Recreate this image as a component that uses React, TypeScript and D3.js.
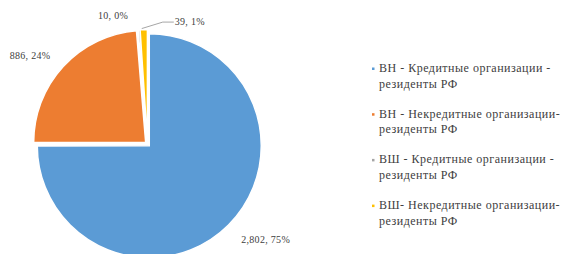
import React from "react";
import * as d3 from "d3";

const categories = [
  "ВН - Кредитные организации -|резиденты РФ",
  "ВН - Некредитные организации-|резиденты РФ",
  "ВШ - Кредитные организации -|резиденты РФ",
  "ВШ- Некредитные организации-|резиденты РФ",
];
const values = [2802, 886, 10, 39];
const percentLabels = ["75%", "24%", "0%", "1%"];
const colors = ["#5b9bd5", "#ed7d31", "#a5a5a5", "#ffc000"];

// label placement (polar, degrees clockwise from 12 o'clock; radius in px)
const labelAngles = [129, 307, 345, 19];
const labelRadii = [152, 147, 133, 130];

const W = 568;
const H = 254;
const cx = 147.5;
const cy = 144;
const R = 112;
const explode = 2.5;
const FONT = "'Liberation Serif', 'Times New Roman', Times, 'DejaVu Serif', serif";

export default function App() {
  const pie = d3.pie<number>().sort(null).value((d) => d)(values);
  const arc = d3.arc<d3.PieArcDatum<number>>().innerRadius(0).outerRadius(R);
  const fmt = d3.format(",");
  const rad = (deg: number) => (deg * Math.PI) / 180;

  return (
    <svg width={W} height={H} style={{ position: "absolute", left: 0, top: 0 }}>
      <rect width={W} height={H} fill="#fff" />
      {pie.map((p, i) => {
        const mid = (p.startAngle + p.endAngle) / 2;
        const dx = Math.sin(mid) * explode;
        const dy = -Math.cos(mid) * explode;
        return (
          <path
            key={i}
            d={arc(p) || ""}
            transform={`translate(${cx + dx},${cy + dy})`}
            fill={colors[i]}
            stroke="#fff"
            strokeWidth={1.5}
          />
        );
      })}
      {pie.map((p, i) => {
        const a = rad(labelAngles[i]);
        const x = cx + Math.sin(a) * labelRadii[i];
        const y = cy - Math.cos(a) * labelRadii[i];
        return (
          <text key={i} x={x} y={y} dy="0.35em" textAnchor="middle" fontSize={10} letterSpacing={0.3} fill="#404040" style={{ fontFamily: FONT }}>
            {`${fmt(values[i])}, ${percentLabels[i]}`}
          </text>
        );
      })}
      {(() => {
        const p = pie[3];
        const mid = (p.startAngle + p.endAngle) / 2;
        const sx = cx + Math.sin(mid) * (R + explode);
        const sy = cy - Math.cos(mid) * (R + explode);
        const a = rad(labelAngles[3]);
        const lx = cx + Math.sin(a) * labelRadii[3] - 15;
        const ly = cy - Math.cos(a) * labelRadii[3] + 1;
        const line = d3.line()([
          [sx - 2, sy - 1],
          [lx - 12, ly],
          [lx - 1, ly],
        ]);
        return <path d={line || ""} fill="none" stroke="#a6a6a6" strokeWidth={1} />;
      })()}
      {categories.map((c, i) => {
        const lines = c.split("|");
        const y0 = 72 + i * 45.7;
        return (
          <g key={i}>
            <rect x={372} y={y0 - 4.5} width={2.5} height={2.5} fill={colors[i]} />
            {lines.map((t, j) => (
              <text key={j} x={379} y={y0 + j * 15.5} fontSize={12} letterSpacing={0.5} fill="#404040" style={{ fontFamily: FONT }}>
                {t}
              </text>
            ))}
          </g>
        );
      })}
    </svg>
  );
}
